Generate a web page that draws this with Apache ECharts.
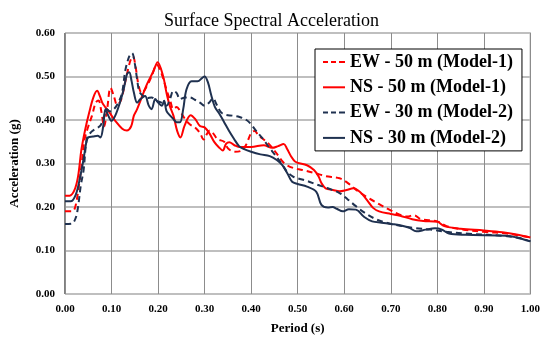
<!DOCTYPE html>
<html>
<head>
<meta charset="utf-8">
<script src="https://cdn.jsdelivr.net/npm/echarts@6/dist/echarts.min.js"></script>
<style>
  html, body { margin: 0; padding: 0; background: #fff; }
  #chart { width: 543px; height: 340px; }
</style>
</head>
<body>
<div id="chart"></div>
<script>
// series names (legend order)
const seriesNames = ['EW - 50 m (Model-1)', 'NS - 50 m (Model-1)', 'EW - 30 m (Model-2)', 'NS - 30 m (Model-2)'];

// [period (s), acceleration (g)]
const ew50 = [[0,0.19],[0.015,0.19],[0.022,0.2],[0.03,0.25],[0.036,0.3],[0.042,0.355],[0.05,0.385],[0.058,0.41],[0.066,0.44],[0.072,0.445],[0.078,0.42],[0.084,0.385],[0.09,0.42],[0.098,0.474],[0.105,0.455],[0.112,0.435],[0.12,0.445],[0.13,0.49],[0.14,0.535],[0.146,0.546],[0.152,0.52],[0.158,0.48],[0.165,0.462],[0.176,0.478],[0.186,0.5],[0.197,0.527],[0.208,0.505],[0.218,0.47],[0.226,0.445],[0.233,0.425],[0.24,0.43],[0.247,0.421],[0.258,0.402],[0.268,0.39],[0.279,0.383],[0.29,0.37],[0.298,0.355],[0.305,0.368],[0.311,0.376],[0.318,0.37],[0.328,0.356],[0.342,0.35],[0.35,0.335],[0.364,0.327],[0.38,0.33],[0.39,0.345],[0.4,0.37],[0.408,0.375],[0.415,0.365],[0.425,0.357],[0.438,0.345],[0.452,0.327],[0.465,0.308],[0.474,0.298],[0.49,0.29],[0.51,0.285],[0.54,0.277],[0.56,0.271],[0.59,0.266],[0.608,0.255],[0.625,0.24],[0.647,0.224],[0.676,0.206],[0.7,0.192],[0.718,0.183],[0.735,0.178],[0.75,0.181],[0.765,0.172],[0.8,0.167],[0.82,0.156],[0.85,0.149],[0.9,0.143],[0.95,0.139],[1.0,0.13]];

const ns50 = [[0,0.226],[0.01,0.226],[0.02,0.238],[0.028,0.27],[0.035,0.33],[0.043,0.376],[0.052,0.417],[0.061,0.452],[0.069,0.467],[0.075,0.455],[0.08,0.44],[0.087,0.429],[0.095,0.418],[0.108,0.398],[0.123,0.38],[0.133,0.376],[0.142,0.385],[0.148,0.41],[0.155,0.425],[0.162,0.444],[0.176,0.482],[0.19,0.512],[0.199,0.533],[0.211,0.5],[0.218,0.463],[0.225,0.433],[0.233,0.41],[0.241,0.375],[0.248,0.36],[0.257,0.387],[0.27,0.411],[0.28,0.402],[0.29,0.386],[0.3,0.383],[0.311,0.368],[0.321,0.349],[0.33,0.338],[0.339,0.33],[0.346,0.345],[0.353,0.349],[0.364,0.342],[0.374,0.338],[0.4,0.338],[0.427,0.342],[0.445,0.336],[0.458,0.34],[0.47,0.345],[0.477,0.334],[0.485,0.318],[0.495,0.304],[0.52,0.296],[0.535,0.285],[0.545,0.27],[0.551,0.255],[0.56,0.243],[0.576,0.239],[0.59,0.236],[0.605,0.239],[0.62,0.243],[0.63,0.238],[0.64,0.228],[0.651,0.213],[0.662,0.198],[0.675,0.19],[0.7,0.184],[0.72,0.18],[0.746,0.172],[0.77,0.168],[0.8,0.166],[0.815,0.156],[0.85,0.15],[0.9,0.146],[0.94,0.142],[0.97,0.137],[1.0,0.13]];

const ew30 = [[0,0.161],[0.015,0.162],[0.023,0.175],[0.028,0.2],[0.034,0.25],[0.04,0.285],[0.047,0.357],[0.056,0.372],[0.066,0.38],[0.076,0.387],[0.083,0.405],[0.09,0.425],[0.096,0.42],[0.105,0.425],[0.112,0.435],[0.122,0.46],[0.13,0.516],[0.138,0.546],[0.144,0.554],[0.15,0.53],[0.155,0.493],[0.16,0.465],[0.168,0.455],[0.176,0.45],[0.186,0.452],[0.197,0.444],[0.207,0.44],[0.218,0.433],[0.226,0.45],[0.233,0.467],[0.24,0.462],[0.247,0.448],[0.258,0.452],[0.268,0.452],[0.28,0.446],[0.29,0.44],[0.3,0.433],[0.31,0.44],[0.318,0.45],[0.326,0.435],[0.335,0.418],[0.345,0.412],[0.36,0.41],[0.375,0.407],[0.39,0.4],[0.4,0.39],[0.41,0.376],[0.425,0.357],[0.438,0.338],[0.452,0.319],[0.467,0.297],[0.478,0.28],[0.49,0.27],[0.5,0.266],[0.52,0.26],[0.54,0.252],[0.565,0.243],[0.59,0.232],[0.607,0.218],[0.625,0.202],[0.645,0.186],[0.668,0.172],[0.69,0.164],[0.72,0.157],[0.75,0.152],[0.785,0.148],[0.82,0.143],[0.86,0.139],[0.95,0.133],[0.98,0.128],[1.0,0.121]];

const ns30 = [[0,0.213],[0.012,0.213],[0.023,0.228],[0.032,0.266],[0.04,0.311],[0.046,0.35],[0.05,0.36],[0.06,0.362],[0.07,0.364],[0.076,0.36],[0.082,0.385],[0.087,0.425],[0.093,0.41],[0.1,0.398],[0.108,0.41],[0.118,0.44],[0.126,0.47],[0.133,0.505],[0.138,0.51],[0.143,0.49],[0.148,0.463],[0.155,0.44],[0.162,0.448],[0.172,0.455],[0.18,0.433],[0.186,0.425],[0.194,0.448],[0.2,0.44],[0.208,0.433],[0.213,0.444],[0.218,0.421],[0.226,0.41],[0.233,0.402],[0.24,0.395],[0.247,0.395],[0.254,0.425],[0.261,0.47],[0.272,0.489],[0.285,0.489],[0.295,0.497],[0.3,0.5],[0.307,0.487],[0.314,0.458],[0.322,0.43],[0.332,0.414],[0.342,0.395],[0.352,0.376],[0.363,0.357],[0.374,0.34],[0.385,0.333],[0.4,0.327],[0.42,0.321],[0.44,0.317],[0.455,0.308],[0.467,0.296],[0.478,0.277],[0.488,0.258],[0.5,0.253],[0.52,0.247],[0.54,0.235],[0.551,0.205],[0.565,0.199],[0.575,0.2],[0.584,0.196],[0.597,0.19],[0.61,0.195],[0.625,0.194],[0.643,0.177],[0.66,0.167],[0.68,0.164],[0.7,0.161],[0.72,0.158],[0.74,0.152],[0.755,0.144],[0.775,0.148],[0.795,0.151],[0.81,0.148],[0.825,0.139],[0.86,0.136],[0.95,0.134],[0.97,0.13],[1.0,0.121]];

const RED = '#ff0000';
const NAVY = '#1f3150';
const FONT = '"Liberation Serif", "Times New Roman", serif';
// legend line samples
const ICON_SOLID = 'path://M0,0h22v2h-22z';
const ICON_DASH = 'path://M0,0h5v2h-5zM8,0h5v2h-5zM16,0h6v2h-6z';

function makeLine(name, data, color, dashed) {
    return {
        name: name,
        type: 'line',
        data: data,
        smooth: 0.35,
        symbol: 'none',
        lineStyle: { width: 2, color: color, type: dashed ? [6, 4] : 'solid' },
        itemStyle: { color: color }
    };
}

const myChart = echarts.init(document.getElementById('chart'));
const option = {
    animation: false,
    title: {
        text: 'Surface Spectral Acceleration',
        left: 'center',
        top: 7,
        textStyle: { fontFamily: FONT, fontWeight: 'normal', fontSize: 18, color: '#000' }
    },
    grid: {
        left: 62, right: 10, top: 33, bottom: 43,
        show: true, borderColor: '#000', borderWidth: 1
    },
    legend: {
        orient: 'vertical',
        left: 315, top: 49,
        padding: [4, 9, 4, 8],
        itemWidth: 22, itemHeight: 2, itemGap: 7.3,
        backgroundColor: '#fff',
        borderColor: '#000', borderWidth: 1,
        itemStyle: { borderWidth: 0 },
        data: [
            { name: seriesNames[0], icon: ICON_DASH },
            { name: seriesNames[1], icon: ICON_SOLID },
            { name: seriesNames[2], icon: ICON_DASH },
            { name: seriesNames[3], icon: ICON_SOLID }
        ],
        textStyle: { fontFamily: FONT, fontWeight: 'bold', fontSize: 18, color: '#000', lineHeight: 18 }
    },
    xAxis: {
        type: 'value', min: 0, max: 1, interval: 0.1,
        name: 'Period (s)', nameLocation: 'middle', nameGap: 28,
        nameTextStyle: { fontFamily: FONT, fontWeight: 'bold', fontSize: 13, color: '#000' },
        axisLine: { show: false }, axisTick: { show: false },
        axisLabel: { formatter: v => v.toFixed(2), fontFamily: FONT, fontWeight: 'bold', fontSize: 11, color: '#000', margin: 10 },
        splitLine: { show: true, lineStyle: { color: '#8c8c8c', width: 1 } }
    },
    yAxis: {
        type: 'value', min: 0, max: 0.6, interval: 0.1,
        name: 'Acceleration (g)', nameLocation: 'middle', nameGap: 44,
        nameTextStyle: { fontFamily: FONT, fontWeight: 'bold', fontSize: 13, color: '#000' },
        axisLine: { show: false }, axisTick: { show: false },
        axisLabel: { formatter: v => v.toFixed(2), fontFamily: FONT, fontWeight: 'bold', fontSize: 11, color: '#000', margin: 10 },
        splitLine: { show: true, lineStyle: { color: '#bfbfbf', width: 2 } }
    },
    series: [
        makeLine(seriesNames[0], ew50, RED, true),
        makeLine(seriesNames[1], ns50, RED, false),
        makeLine(seriesNames[2], ew30, NAVY, true),
        makeLine(seriesNames[3], ns30, NAVY, false)
    ]
};
myChart.setOption(option);
</script>
</body>
</html>
